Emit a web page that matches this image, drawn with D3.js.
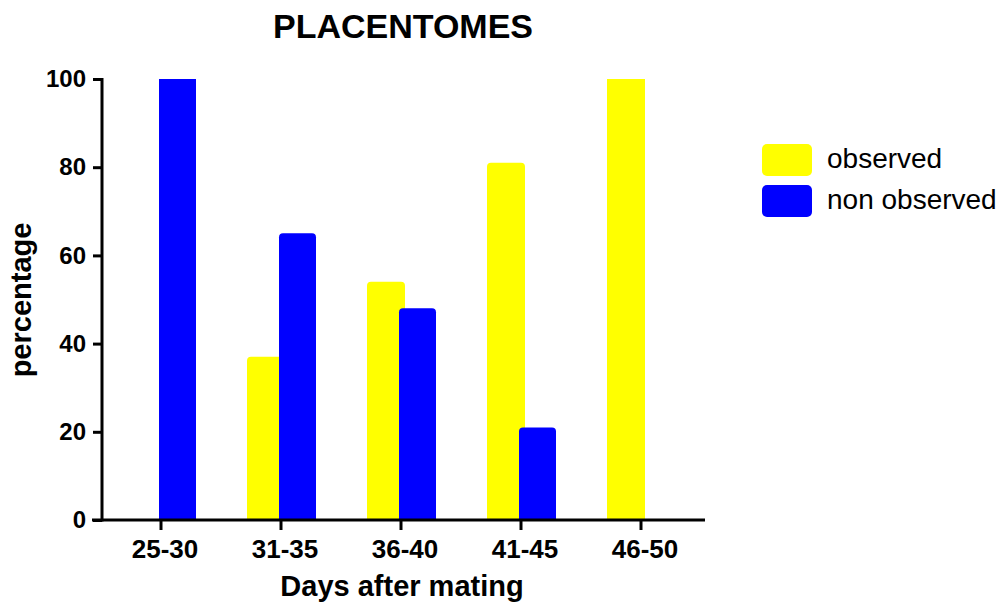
<!DOCTYPE html>
<html>
<head>
<meta charset="utf-8">
<script src="https://cdn.jsdelivr.net/npm/d3@7"></script>
<style>
  body { margin: 0; background: #fff; }
  svg text { font-family: "Liberation Sans", Arial, sans-serif; }
</style>
</head>
<body>
<div id="chart"></div>
<script>
var categories = ["25-30", "31-35", "36-40", "41-45", "46-50"];
var seriesNames = ["observed", "non observed"];
var observed = [0, 37, 54, 81, 100];
var nonObserved = [100, 65, 48, 21, 0];
var yTicks = [0, 20, 40, 60, 80, 100];
var colors = ["#ffff00", "#0000ff"];

var width = 1008, height = 608;

var svg = d3.select("#chart")
    .append("svg")
    .attr("width", width)
    .attr("height", height);

var x = d3.scaleBand()
    .domain(categories)
    .range([101, 701]);

var y = d3.scaleLinear()
    .domain([0, 100])
    .range([520, 79]);

// bar offsets relative to category centre (bars overlap, blue on top)
var barSpec = [
    {values: observed, dx: -34, w: 38},
    {values: nonObserved, dx: -2, w: 37}
];

function topRounded(x0, y0, w, h, r) {
    r = Math.min(r, h, w / 2);
    return "M" + x0 + "," + (y0 + h) +
        "V" + (y0 + r) +
        "Q" + x0 + "," + y0 + " " + (x0 + r) + "," + y0 +
        "H" + (x0 + w - r) +
        "Q" + (x0 + w) + "," + y0 + " " + (x0 + w) + "," + (y0 + r) +
        "V" + (y0 + h) + "Z";
}

barSpec.forEach(function(s, si) {
    svg.append("g")
        .selectAll("path")
        .data(categories.map(function(c, i) { return {cat: c, v: s.values[i]}; }))
        .enter()
        .filter(function(d) { return d.v > 0; })
        .append("path")
        .attr("d", function(d) {
            var cx = x(d.cat) + x.bandwidth() / 2;
            var top = y(d.v);
            var r = d.v >= 100 ? 0 : 4;
            return topRounded(cx + s.dx, top, s.w, y(0) - top, r);
        })
        .attr("fill", colors[si]);
});

// y axis
var yAxis = d3.axisLeft(y)
    .tickValues(yTicks)
    .tickSize(9)
    .tickPadding(7);

var yg = svg.append("g")
    .attr("transform", "translate(102,0)")
    .call(yAxis);
yg.select(".domain").remove();
yg.append("line")
    .attr("x1", 0).attr("x2", 0)
    .attr("y1", y(100) - 1).attr("y2", y(0) + 1.5)
    .attr("stroke", "#000").attr("stroke-width", 3);
yg.selectAll(".tick line").attr("stroke-width", 3);
yg.selectAll(".tick text")
    .attr("font-size", 24)
    .attr("font-weight", "bold")
    .attr("fill", "#000")
    .attr("font-family", "Liberation Sans, Arial, sans-serif");

// x axis
var xAxis = d3.axisBottom(x)
    .tickSize(10)
    .tickPadding(10);

var xg = svg.append("g")
    .attr("transform", "translate(0," + y(0) + ")")
    .call(xAxis);
xg.select(".domain").remove();
xg.append("line")
    .attr("x1", 92).attr("x2", 705)
    .attr("y1", 0).attr("y2", 0)
    .attr("stroke", "#000").attr("stroke-width", 3);
xg.selectAll(".tick line").attr("stroke-width", 3);
xg.selectAll(".tick text")
    .attr("font-size", 26)
    .attr("font-weight", "bold")
    .attr("fill", "#000")
    .attr("dx", 4)
    .attr("font-family", "Liberation Sans, Arial, sans-serif");

// titles
svg.append("text")
    .attr("x", 403).attr("y", 38)
    .attr("text-anchor", "middle")
    .attr("font-size", 34)
    .attr("font-weight", "bold")
    .text("PLACENTOMES");

svg.append("text")
    .attr("x", 402).attr("y", 596)
    .attr("text-anchor", "middle")
    .attr("font-size", 29)
    .attr("font-weight", "bold")
    .text("Days after mating");

svg.append("text")
    .attr("transform", "translate(31,300) rotate(-90)")
    .attr("text-anchor", "middle")
    .attr("font-size", 29)
    .attr("font-weight", "bold")
    .text("percentage");

// legend
var legend = svg.append("g")
    .selectAll("g")
    .data(seriesNames)
    .enter()
    .append("g")
    .attr("transform", function(d, i) { return "translate(762," + (144 + i * 41) + ")"; });

legend.append("rect")
    .attr("width", 50).attr("height", 32)
    .attr("rx", 5)
    .attr("fill", function(d, i) { return colors[i]; });

legend.append("text")
    .attr("x", 65).attr("y", 24)
    .attr("font-size", 28)
    .attr("fill", "#000")
    .text(function(d) { return d; });
</script>
</body>
</html>
